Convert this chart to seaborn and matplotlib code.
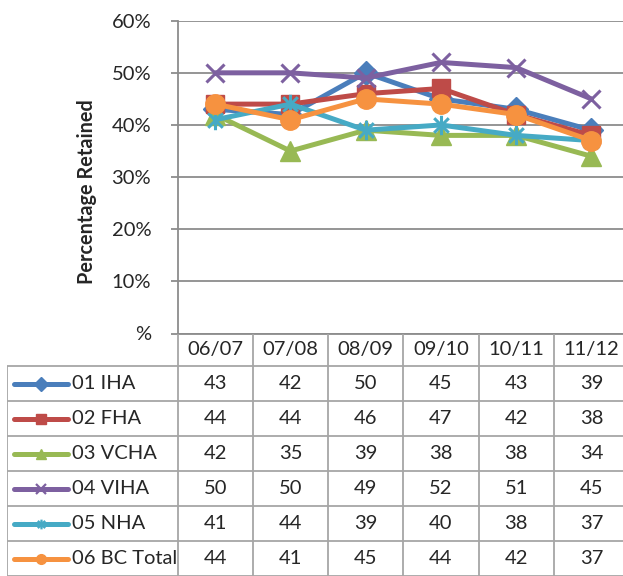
import matplotlib
matplotlib.use("Agg")
import matplotlib.pyplot as plt
import pandas as pd
import seaborn as sns
from matplotlib.path import Path

seasons = ['06/07', '07/08', '08/09', '09/10', '10/11', '11/12']
regions = ['01 IHA', '02 FHA', '03 VCHA', '04 VIHA', '05 NHA', '06 BC Total']
iha = [43, 42, 50, 45, 43, 39]
fha = [44, 44, 46, 47, 42, 38]
vcha = [42, 35, 39, 38, 38, 34]
viha = [50, 50, 49, 52, 51, 45]
nha = [41, 44, 39, 40, 38, 37]
bc_total = [44, 41, 45, 44, 42, 37]
yticks = [0, 10, 20, 30, 40, 50, 60]
ytick_labels = ['%', '10%', '20%', '30%', '40%', '50%', '60%']

series = [iha, fha, vcha, viha, nha, bc_total]
df = pd.DataFrame({
    'region': [r for r, s in zip(regions, series) for _ in s],
    'season': seasons * len(series),
    'pct': [v for s in series for v in s],
})

# Excel style markers; the "star" is an x with a vertical stroke
star = Path([(0, -1), (0, 1), (-0.75, -0.75), (0.75, 0.75), (-0.75, 0.75), (0.75, -0.75)],
            [Path.MOVETO, Path.LINETO, Path.MOVETO, Path.LINETO, Path.MOVETO, Path.LINETO])
colors = ['#4A7EBB', '#BE4B48', '#98B954', '#7D60A0', '#46AAC5', '#F69240']
markers = ['D', 's', '^', 'x', star, 'o']
msizes = [12, 13, 14, 13, 14, 14]
filled = [True, True, True, False, False, True]

sns.set_style('white')
plt.rcParams['font.family'] = ['Lato', 'DejaVu Sans']
plt.rcParams['font.size'] = 14

W, H = 623, 576
fig = plt.figure(figsize=(W / 100, H / 100), dpi=100)

ax_left, ax_right, ax_top, ax_bot = 177.6, 629, 20.7, 333.5
ax = fig.add_axes([ax_left / W, 1 - ax_bot / H, (ax_right - ax_left) / W, (ax_bot - ax_top) / H])

for name, c, m, ms, f in zip(regions, colors, markers, msizes, filled):
    sns.lineplot(data=df[df['region'] == name], x='season', y='pct', ax=ax,
                 color=c, linewidth=3.6, marker=m, markersize=ms,
                 markeredgecolor=c, markerfacecolor=c if f else 'none',
                 markeredgewidth=1 if f else 2.2, errorbar=None, legend=False)

grid_c = '#8C8C8C'
ax.set_xlim(-0.5, 5.5)
ax.set_ylim(0, 60)
ax.set_yticks(yticks)
ax.set_yticklabels(ytick_labels)
ax.set_xticks([])
ax.set_xlabel('')
ax.grid(axis='y', color=grid_c, linewidth=1.3)
ax.set_axisbelow(True)
for side in ['top', 'right']:
    ax.spines[side].set_visible(False)
for side in ['left', 'bottom']:
    ax.spines[side].set_color(grid_c)
    ax.spines[side].set_linewidth(1.3)
ax.tick_params(axis='y', left=True, length=5, width=1.3, color=grid_c, pad=14, labelsize=14.5)
ax.set_ylabel('Percentage Retained', fontweight='bold', fontsize=14.3)
ax.yaxis.set_label_coords((97 - ax_left) / (ax_right - ax_left),
                          1 - (191.5 - ax_top) / (ax_bot - ax_top))

# data table underneath, sharing the category positions
tab_left = 7
unit = (ax_right - ax_left) / 6
x_left = -0.5 - (ax_left - tab_left) / unit
tab = fig.add_axes([tab_left / W, 0, (ax_right - tab_left) / W, (H - ax_bot) / H])
tab.set_xlim(x_left, 5.5)
tab.set_ylim(H - ax_bot, 0)
tab.axis('off')

line_c = '#A6A6A6'
row_edges = [0, 32.5, 67.5, 102.5, 137.5, 172.5, 207.5, 242.5]
tab.hlines(row_edges[1:], x_left, 5.5, color=line_c, linewidth=1.3)
tab.vlines([i - 0.5 for i in range(6)], 0, row_edges[-1], color=line_c, linewidth=1.3)
tab.vlines([x_left], row_edges[1], row_edges[-1], color=line_c, linewidth=1.3)

for j, s in enumerate(seasons):
    tab.text(j, (row_edges[0] + row_edges[1]) / 2, s, ha='center', va='center', fontsize=14.5)

def px(x):
    return -0.5 - (ax_left - x) / unit

for i, (name, vals, c, m, f) in enumerate(zip(regions, series, colors, markers, filled)):
    yc = (row_edges[i + 1] + row_edges[i + 2]) / 2
    tab.plot([px(14), px(68)], [yc, yc], color=c, linewidth=3.6, solid_capstyle='round')
    tab.plot([px(41)], [yc], marker=m, markersize=7, color=c,
             markerfacecolor=c if f else 'none', markeredgewidth=1 if f else 1.6)
    tab.text(px(72.5), yc, name, ha='left', va='center', fontsize=14.5)
    for j, v in enumerate(vals):
        tab.text(j, yc, str(v), ha='center', va='center', fontsize=14.5)

fig.savefig('out.png', dpi=100)
